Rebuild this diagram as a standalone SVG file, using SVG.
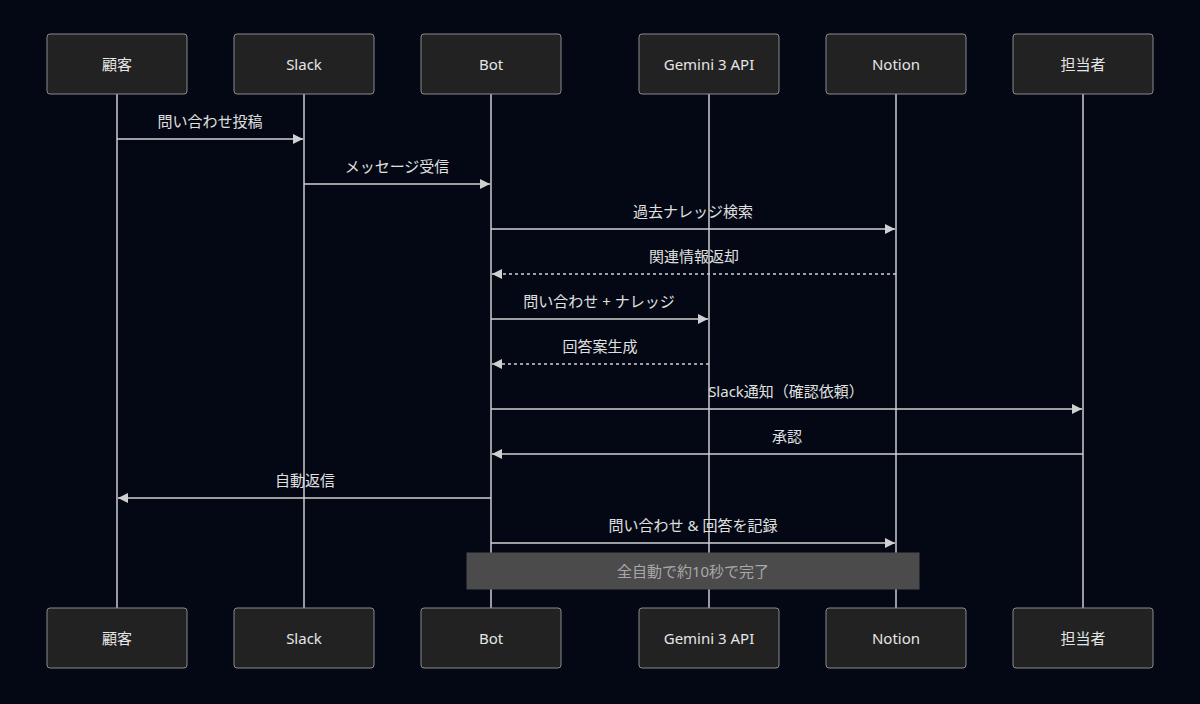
<svg xmlns="http://www.w3.org/2000/svg" width="1200" height="704" viewBox="0 0 1200 704">
<style>
.bg{fill:#030814}
.actor{fill:#222222;stroke:#8a8a8a;stroke-width:1}
.at{fill:#e6e6e6;font-family:"Noto Sans","Noto Sans CJK JP",sans-serif;font-size:15px;text-anchor:middle;dominant-baseline:central}
.life{stroke:#cccccc;stroke-width:1.5}
.msg{stroke:#d0d0d0;stroke-width:1.5;fill:none}
.dash{stroke-dasharray:3,3}
.ml{fill:#e0e0e0;font-family:"Noto Sans","Noto Sans CJK JP",sans-serif;font-size:15px;text-anchor:middle;dominant-baseline:central}
.note{fill:#4b4b4b;stroke:#4b4b4b}
.nt{fill:#a8a8a8;font-family:"Noto Sans","Noto Sans CJK JP",sans-serif;font-size:15px;text-anchor:middle;dominant-baseline:central}
</style>
<defs>
<marker id="ah" viewBox="0 0 10 10" refX="10" refY="5" markerWidth="10" markerHeight="10" markerUnits="userSpaceOnUse" orient="auto">
<path d="M0,0 L10,5 L0,10 z" fill="#d0d0d0"/>
</marker>
</defs>
<rect class="bg" x="0" y="0" width="1200" height="704"/>
<g id="lifelines">
<line class="life" x1="117" y1="94" x2="117" y2="608"/>
<line class="life" x1="304" y1="94" x2="304" y2="608"/>
<line class="life" x1="491" y1="94" x2="491" y2="608"/>
<line class="life" x1="709" y1="94" x2="709" y2="608"/>
<line class="life" x1="896" y1="94" x2="896" y2="608"/>
<line class="life" x1="1083" y1="94" x2="1083" y2="608"/>
</g>
<g id="actor-customer">
<rect class="actor" x="47" y="34" width="140" height="60" rx="3"/><text class="at" x="117" y="64">顧客</text>
<rect class="actor" x="47" y="608" width="140" height="60" rx="3"/><text class="at" x="117" y="638">顧客</text>
</g>
<g id="actor-slack">
<rect class="actor" x="234" y="34" width="140" height="60" rx="3"/><text class="at" x="304" y="64">Slack</text>
<rect class="actor" x="234" y="608" width="140" height="60" rx="3"/><text class="at" x="304" y="638">Slack</text>
</g>
<g id="actor-bot">
<rect class="actor" x="421" y="34" width="140" height="60" rx="3"/><text class="at" x="491" y="64">Bot</text>
<rect class="actor" x="421" y="608" width="140" height="60" rx="3"/><text class="at" x="491" y="638">Bot</text>
</g>
<g id="actor-gemini">
<rect class="actor" x="639" y="34" width="140" height="60" rx="3"/><text class="at" x="709" y="64">Gemini 3 API</text>
<rect class="actor" x="639" y="608" width="140" height="60" rx="3"/><text class="at" x="709" y="638">Gemini 3 API</text>
</g>
<g id="actor-notion">
<rect class="actor" x="826" y="34" width="140" height="60" rx="3"/><text class="at" x="896" y="64">Notion</text>
<rect class="actor" x="826" y="608" width="140" height="60" rx="3"/><text class="at" x="896" y="638">Notion</text>
</g>
<g id="actor-staff">
<rect class="actor" x="1013" y="34" width="140" height="60" rx="3"/><text class="at" x="1083" y="64">担当者</text>
<rect class="actor" x="1013" y="608" width="140" height="60" rx="3"/><text class="at" x="1083" y="638">担当者</text>
</g>
<g id="messages">
<line class="msg" x1="117" y1="139" x2="303" y2="139" marker-end="url(#ah)"/>
<text class="ml" x="210" y="121">問い合わせ投稿</text>
<line class="msg" x1="304" y1="184" x2="490" y2="184" marker-end="url(#ah)"/>
<text class="ml" x="397" y="166">メッセージ受信</text>
<line class="msg" x1="491" y1="229" x2="895" y2="229" marker-end="url(#ah)"/>
<text class="ml" x="693" y="211">過去ナレッジ検索</text>
<line class="msg dash" x1="896" y1="274" x2="492" y2="274" marker-end="url(#ah)"/>
<text class="ml" x="694" y="256">関連情報返却</text>
<line class="msg" x1="491" y1="319" x2="708" y2="319" marker-end="url(#ah)"/>
<text class="ml" x="599" y="301">問い合わせ + ナレッジ</text>
<line class="msg dash" x1="709" y1="364" x2="492" y2="364" marker-end="url(#ah)"/>
<text class="ml" x="600" y="346">回答案生成</text>
<line class="msg" x1="491" y1="409" x2="1082" y2="409" marker-end="url(#ah)"/>
<text class="ml" x="786" y="391">Slack通知（確認依頼）</text>
<line class="msg" x1="1083" y1="454" x2="492" y2="454" marker-end="url(#ah)"/>
<text class="ml" x="787" y="436">承認</text>
<line class="msg" x1="491" y1="498" x2="118" y2="498" marker-end="url(#ah)"/>
<text class="ml" x="305" y="480">自動返信</text>
<line class="msg" x1="491" y1="543" x2="895" y2="543" marker-end="url(#ah)"/>
<text class="ml" x="693" y="525">問い合わせ &amp; 回答を記録</text>
</g>
<g id="note">
<rect class="note" x="467" y="553" width="452" height="36"/>
<text class="nt" x="693" y="571">全自動で約10秒で完了</text>
</g>
</svg>
